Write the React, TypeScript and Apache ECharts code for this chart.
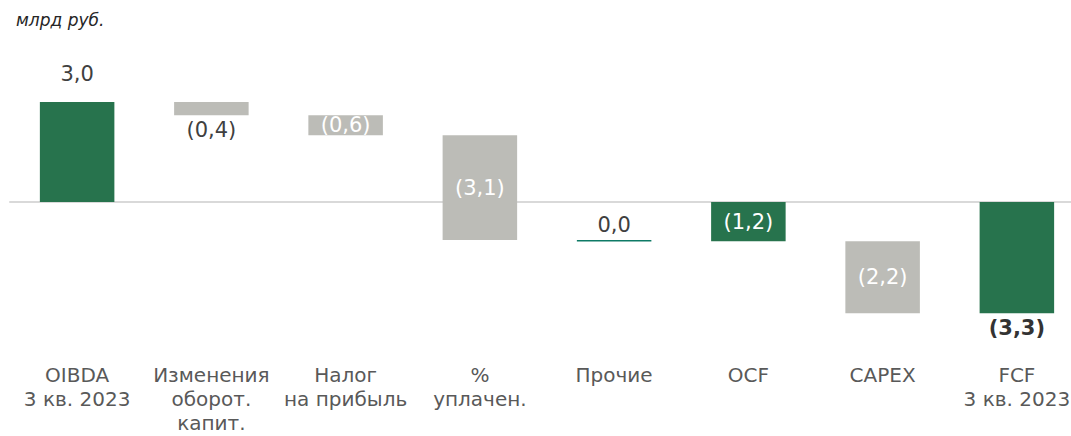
import React, { useEffect, useRef } from "react";
import * as echarts from "echarts";

const categories = [
  "OIBDA\n3 кв. 2023",
  "Изменения\nоборот.\nкапит.",
  "Налог\nна прибыль",
  "%\nуплачен.",
  "Прочие",
  "OCF",
  "CAPEX",
  "FCF\n3 кв. 2023",
];
const values = [3.0, -0.4, -0.6, -3.14, -0.04, -1.18, -2.16, -3.34];
const kinds = ["total", "delta", "delta", "delta", "delta", "total", "delta", "total"];
const unitLabel = "млрд руб.";

const GREEN = "#27734d";
const GREY = "#bcbcb7";
const TEAL = "#0e7a66";
const DARK = "#404040";

const labelPos = ["top", "bottom", "inside", "inside", "top", "inside", "inside", "bottom"];
const labelGap = [18, 4, 0, 0, 5, 0, 0, 4];
const fmt = (v: number) => {
  const r = Math.round(Math.abs(v) * 10) / 10;
  const s = r.toFixed(1).replace(".", ",");
  return v < 0 && r !== 0 ? "(" + s + ")" : s;
};

export default function App() {
  const ref = useRef<HTMLDivElement>(null);
  useEffect(() => {
    if (!ref.current) return;
    const chart = echarts.init(ref.current, null, { renderer: "svg" });
    let run = 0;
    const data = values.map((v, i) => {
      let s: number, e: number;
      if (kinds[i] === "total") {
        s = 0;
        e = v;
        run = v;
      } else {
        s = run;
        e = run + v;
        run = e;
      }
      return [i, s, e];
    });
    const colors = kinds.map((k, i) => (k === "total" ? GREEN : i === 4 ? TEAL : GREY));
    const font = "DejaVu Sans";
    chart.setOption({
      animation: false,
      title: {
        text: unitLabel,
        left: 11,
        top: 6,
        textStyle: { fontStyle: "italic", fontWeight: "normal", fontSize: 17, color: "#262626", fontFamily: font },
      },
      grid: { left: 10, top: 52, width: 1074, height: 300, outerBoundsMode: "none", containLabel: false },
      xAxis: {
        type: "category",
        data: categories,
        axisTick: { show: false },
        axisLine: { show: true, onZero: true, lineStyle: { color: "#d9d9d9", width: 2 } },
        axisLabel: { interval: 0, color: "#595959", fontSize: 20, lineHeight: 24, margin: 11, fontFamily: font },
        z: 0,
      },
      yAxis: { type: "value", min: -4.5, max: 4.5, show: false, splitLine: { show: false } },
      series: [
        {
          type: "custom",
          data,
          encode: { x: 0, y: [1, 2] },
          z: 5,
          renderItem: (params: any, api: any) => {
            const i = api.value(0);
            const s = api.value(1);
            const e = api.value(2);
            const top = api.coord([i, Math.max(s, e)]);
            const bot = api.coord([i, Math.min(s, e)]);
            const w = api.size([1, 0])[0] * 0.555;
            const h = Math.max(bot[1] - top[1], 1.5);
            const x = top[0] - w / 2;
            const pos = labelPos[i];
            const bold = i === 7;
            let ty: number, va: string, fill: string;
            if (pos === "top") {
              ty = top[1] - labelGap[i];
              va = "bottom";
              fill = DARK;
            } else if (pos === "bottom") {
              ty = top[1] + h + labelGap[i];
              va = "top";
              fill = bold ? "#333333" : DARK;
            } else {
              ty = top[1] + h / 2;
              va = "middle";
              fill = "#ffffff";
            }
            return {
              type: "group",
              children: [
                { type: "rect", shape: { x, y: top[1], width: w, height: h }, style: { fill: colors[i] } },
                {
                  type: "text",
                  z2: 10,
                  style: {
                    text: fmt(values[i]),
                    x: top[0],
                    y: ty,
                    align: "center",
                    verticalAlign: va,
                    fill,
                    fontSize: 21,
                    fontWeight: bold ? "bold" : "normal",
                    fontFamily: font,
                  },
                },
              ],
            };
          },
        },
      ],
    });
    return () => chart.dispose();
  }, []);
  return (
    <div style={{ position: "absolute", left: 0, top: 0, width: 1071, height: 436, overflow: "hidden" }}>
      <div ref={ref} style={{ position: "absolute", left: 0, top: 0, width: 1100, height: 436 }} />
    </div>
  );
}
